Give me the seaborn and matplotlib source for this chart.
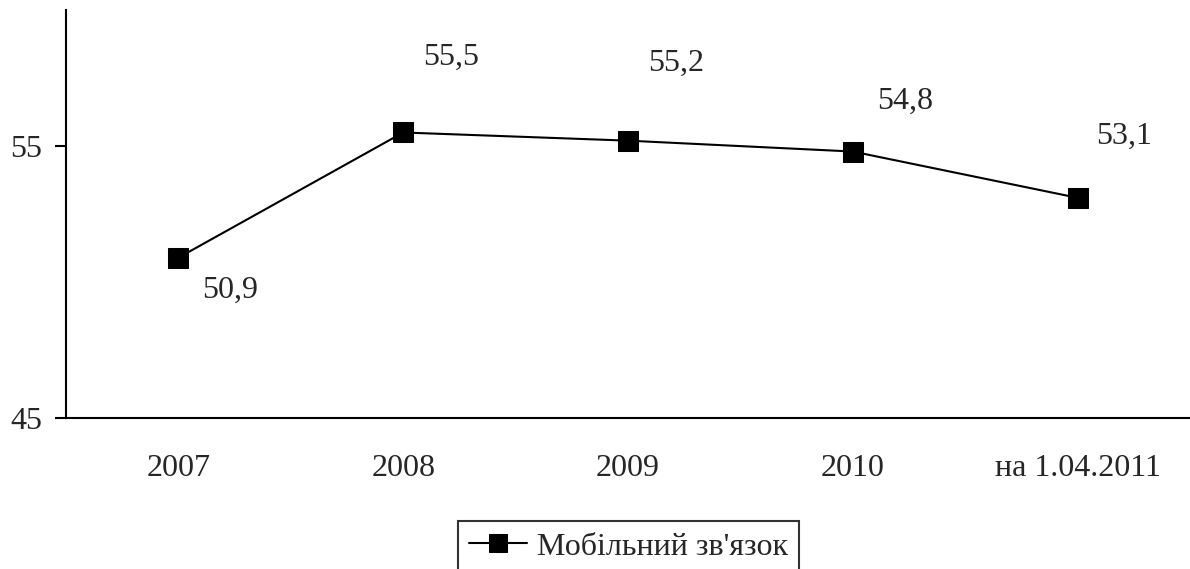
import matplotlib
matplotlib.use("Agg")
import matplotlib.pyplot as plt
import seaborn as sns
import pandas as pd

# data
periods = ["2007", "2008", "2009", "2010", "на 1.04.2011"]
values = [50.9, 55.5, 55.2, 54.8, 53.1]
y_ticks = [45, 55]
series_name = "Мобільний зв'язок"

# label placement (pixels from the marker)
label_offsets = [(52, -33), (48, 75), (48, 77), (52, 50), (46, 61)]

sns.set_style("white")
plt.rcParams["font.family"] = ["Liberation Serif", "DejaVu Serif"]
FS = 23

df = pd.DataFrame({"period": periods, "value": values})

fig = plt.figure(figsize=(11.9, 5.69), dpi=100)
ax = fig.add_axes([66 / 1190, 1 - 418.3 / 569, 1124 / 1190, 408.3 / 569])

sns.lineplot(data=df, x="period", y="value", ax=ax, sort=False, color="black",
             linewidth=1.5, marker="s", markersize=15, markeredgecolor="black",
             markerfacecolor="black", label=series_name, legend=False)

for i, (v, (dx, dy)) in enumerate(zip(values, label_offsets)):
    ax.annotate(f"{v:.1f}".replace(".", ","), (i, v), xytext=(dx, dy),
                textcoords="offset pixels", ha="center", va="center", fontsize=FS)

ax.set_xlim(-0.5, len(periods) - 0.5)
ax.set_ylim(45, 60)
ax.set_yticks(y_ticks)
ax.set_xticks(range(len(periods)))
ax.set_xticklabels(periods)
ax.set_xticks([i - 0.5 for i in range(len(periods))], minor=True)
ax.set_xlabel("")
ax.set_ylabel("")

ax.tick_params(axis="x", which="major", length=0, pad=26, labelsize=FS)
ax.tick_params(axis="x", which="minor", direction="out", length=8, width=1.5, color="black")
ax.tick_params(axis="y", direction="out", length=8, width=1.5, color="black",
               pad=9, labelsize=FS, left=True)

for side in ["top", "right"]:
    ax.spines[side].set_visible(False)
for side in ["left", "bottom"]:
    ax.spines[side].set_color("black")
    ax.spines[side].set_linewidth(1.5)

handles, labels = ax.get_legend_handles_labels()
leg = fig.legend(handles, labels, loc="upper center", bbox_to_anchor=(628.5 / 1190, 1 - 521 / 569),
                 fontsize=FS, frameon=True, fancybox=False, edgecolor="black",
                 handlelength=1.8, handletextpad=0.3, borderpad=0.35, borderaxespad=0,
                 markerscale=0.85)
leg.get_frame().set_linewidth(1.5)

fig.savefig("out.png", dpi=100)
plt.close()
